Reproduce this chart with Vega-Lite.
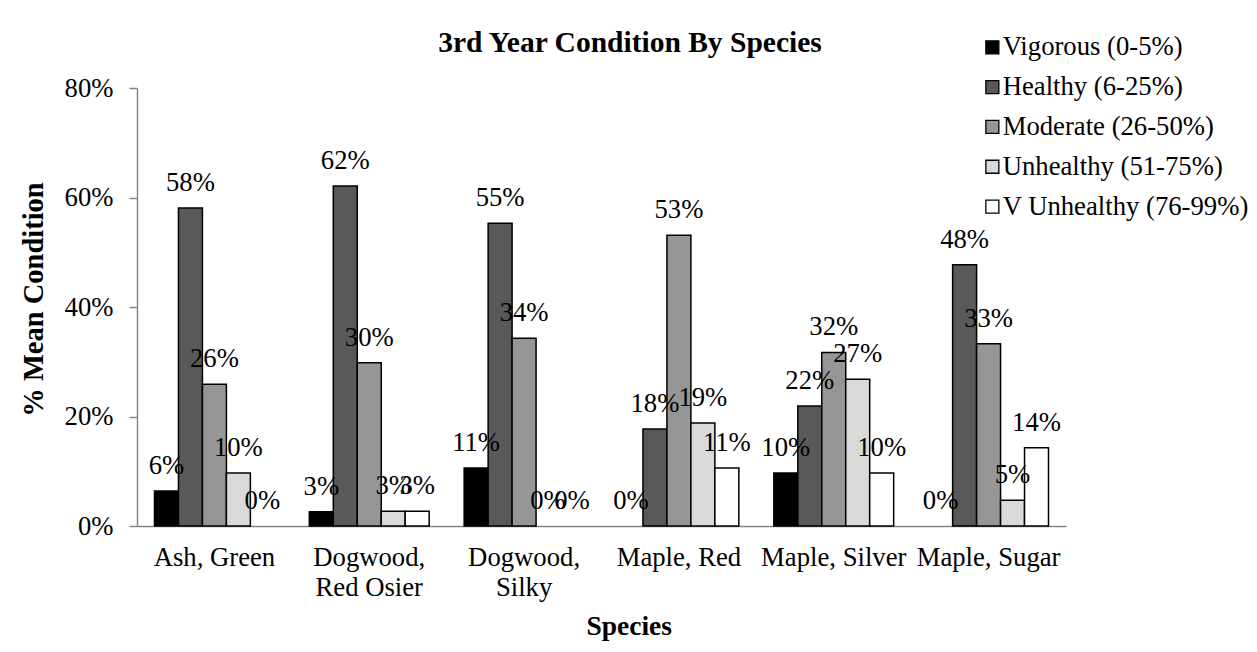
{
  "$schema": "https://vega.github.io/schema/vega-lite/v6.json",
  "width": 929,
  "height": 438,
  "autosize": {"type": "none"},
  "padding": {"left": 137, "top": 88, "right": 191, "bottom": 126},
  "background": "white",
  "title": {
    "text": "3rd Year Condition By Species",
    "font": "Liberation Serif",
    "fontSize": 29.5,
    "fontWeight": "bold",
    "color": "black",
    "anchor": "middle",
    "frame": "group",
    "baseline": "alphabetic",
    "offset": -47,
    "dx": 28.5
  },
  "data": {
    "values": [
      {"species": "Ash, Green", "condition": "Vigorous (0-5%)", "value": 0.064},
      {"species": "Ash, Green", "condition": "Healthy (6-25%)", "value": 0.581},
      {"species": "Ash, Green", "condition": "Moderate (26-50%)", "value": 0.259},
      {"species": "Ash, Green", "condition": "Unhealthy (51-75%)", "value": 0.097},
      {"species": "Ash, Green", "condition": "V Unhealthy (76-99%)", "value": 0},
      {"species": "Dogwood, Red Osier", "condition": "Vigorous (0-5%)", "value": 0.026},
      {"species": "Dogwood, Red Osier", "condition": "Healthy (6-25%)", "value": 0.621},
      {"species": "Dogwood, Red Osier", "condition": "Moderate (26-50%)", "value": 0.298},
      {"species": "Dogwood, Red Osier", "condition": "Unhealthy (51-75%)", "value": 0.027},
      {"species": "Dogwood, Red Osier", "condition": "V Unhealthy (76-99%)", "value": 0.027},
      {"species": "Dogwood, Silky", "condition": "Vigorous (0-5%)", "value": 0.106},
      {"species": "Dogwood, Silky", "condition": "Healthy (6-25%)", "value": 0.553},
      {"species": "Dogwood, Silky", "condition": "Moderate (26-50%)", "value": 0.343},
      {"species": "Dogwood, Silky", "condition": "Unhealthy (51-75%)", "value": 0},
      {"species": "Dogwood, Silky", "condition": "V Unhealthy (76-99%)", "value": 0},
      {"species": "Maple, Red", "condition": "Vigorous (0-5%)", "value": 0},
      {"species": "Maple, Red", "condition": "Healthy (6-25%)", "value": 0.177},
      {"species": "Maple, Red", "condition": "Moderate (26-50%)", "value": 0.531},
      {"species": "Maple, Red", "condition": "Unhealthy (51-75%)", "value": 0.188},
      {"species": "Maple, Red", "condition": "V Unhealthy (76-99%)", "value": 0.106},
      {"species": "Maple, Silver", "condition": "Vigorous (0-5%)", "value": 0.097},
      {"species": "Maple, Silver", "condition": "Healthy (6-25%)", "value": 0.219},
      {"species": "Maple, Silver", "condition": "Moderate (26-50%)", "value": 0.317},
      {"species": "Maple, Silver", "condition": "Unhealthy (51-75%)", "value": 0.268},
      {"species": "Maple, Silver", "condition": "V Unhealthy (76-99%)", "value": 0.097},
      {"species": "Maple, Sugar", "condition": "Vigorous (0-5%)", "value": 0},
      {"species": "Maple, Sugar", "condition": "Healthy (6-25%)", "value": 0.477},
      {"species": "Maple, Sugar", "condition": "Moderate (26-50%)", "value": 0.333},
      {"species": "Maple, Sugar", "condition": "Unhealthy (51-75%)", "value": 0.047},
      {"species": "Maple, Sugar", "condition": "V Unhealthy (76-99%)", "value": 0.143}
    ]
  },
  "encoding": {
    "x": {
      "field": "species",
      "type": "nominal",
      "sort": null,
      "scale": {"paddingInner": 0.226, "paddingOuter": 0.113},
      "axis": {
        "title": "Species",
        "titleFont": "Liberation Serif",
        "titleFontSize": 27.5,
        "titleFontWeight": "bold",
        "titleColor": "black",
        "titleX": 491.7,
        "titleY": 108,
        "titleBaseline": "alphabetic",
        "titleAnchor": "start",
        "titleAlign": "center",
        "labelAngle": 0,
        "labelFont": "Liberation Serif",
        "labelFontSize": 26.7,
        "labelColor": "black",
        "labelPadding": 18,
        "labelLineHeight": 30,
        "labelBaseline": "top",
        "labelExpr": "datum.value == 'Dogwood, Red Osier' ? ['Dogwood,', 'Red Osier'] : datum.value == 'Dogwood, Silky' ? ['Dogwood,', 'Silky'] : datum.label",
        "ticks": false,
        "domainColor": "#868686",
        "domainWidth": 1.5
      }
    },
    "xOffset": {
      "field": "condition",
      "type": "nominal",
      "sort": ["Vigorous (0-5%)", "Healthy (6-25%)", "Moderate (26-50%)", "Unhealthy (51-75%)", "V Unhealthy (76-99%)"],
      "scale": {"paddingInner": 0, "paddingOuter": 0}
    },
    "y": {
      "field": "value",
      "type": "quantitative",
      "scale": {"domain": [0, 0.8], "nice": false},
      "axis": {
        "title": "% Mean Condition",
        "titleFont": "Liberation Serif",
        "titleFontSize": 28.5,
        "titleFontWeight": "bold",
        "titleColor": "black",
        "titleAngle": -90,
        "titleX": -104,
        "titleY": 211,
        "titleAlign": "center",
        "titleBaseline": "middle",
        "values": [0, 0.2, 0.4, 0.6, 0.8],
        "format": ".0%",
        "labelFont": "Liberation Serif",
        "labelFontSize": 26.7,
        "labelColor": "black",
        "labelPadding": 16,
        "tickSize": 8,
        "tickColor": "#868686",
        "tickWidth": 1.5,
        "domainColor": "#868686",
        "domainWidth": 1.5,
        "grid": false
      }
    }
  },
  "layer": [
    {
      "mark": {"type": "bar", "stroke": "black", "strokeWidth": 1.5},
      "encoding": {
        "strokeOpacity": {"condition": {"test": "datum.value == 0", "value": 0}, "value": 1},
        "color": {
          "field": "condition",
          "type": "nominal",
          "scale": {
            "domain": ["Vigorous (0-5%)", "Healthy (6-25%)", "Moderate (26-50%)", "Unhealthy (51-75%)", "V Unhealthy (76-99%)"],
            "range": ["#000000", "#595959", "#969696", "#d9d9d9", "#ffffff"]
          },
          "legend": {
            "title": null,
            "orient": "none",
            "legendX": 842,
            "legendY": -54,
            "padding": 0,
            "symbolType": "square",
            "symbolSize": 169,
            "symbolStrokeColor": "black",
            "symbolStrokeWidth": 1.3,
            "symbolOpacity": 1,
            "labelFont": "Liberation Serif",
            "labelFontSize": 26.7,
            "labelColor": "black",
            "labelOffset": -3,
            "labelLimit": 400,
            "rowPadding": 11.8
          }
        }
      }
    },
    {
      "mark": {
        "type": "text",
        "font": "Liberation Serif",
        "fontSize": 26.7,
        "color": "black",
        "baseline": "alphabetic",
        "align": "center",
        "dy": -17
      },
      "encoding": {
        "text": {"field": "value", "type": "quantitative", "format": ".0%"}
      }
    }
  ],
  "config": {"view": {"stroke": null}}
}
